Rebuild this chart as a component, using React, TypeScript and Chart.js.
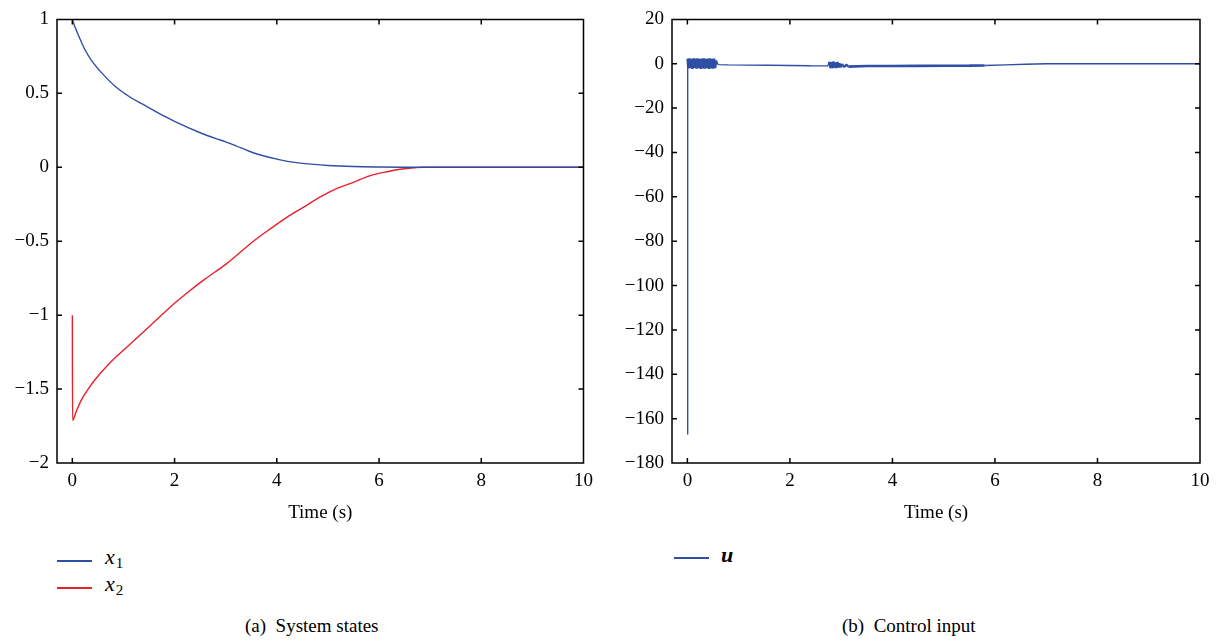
import React, { useEffect, useRef } from 'react';
import { Chart, registerables } from 'chart.js';
Chart.register(...registerables);

// ---------- data ----------
const X_TICKS = [0, 2, 4, 6, 8, 10];
const STATE_Y_TICKS = [-2, -1.5, -1, -0.5, 0, 0.5, 1];
const INPUT_Y_TICKS = [-180, -160, -140, -120, -100, -80, -60, -40, -20, 0, 20];

const X1_T = [0, 0.05, 0.11, 0.24, 0.37, 0.57, 0.83, 1.15, 1.41, 1.83, 2.0, 2.49, 2.8, 3.0, 3.2, 3.45, 3.63, 4.0, 4.21, 4.5, 5.0, 5.5, 6.0, 6.5, 6.8, 10];
const X1_V = [1.0, 0.95, 0.9, 0.8, 0.725, 0.64, 0.55, 0.47, 0.42, 0.34, 0.31, 0.235, 0.195, 0.172, 0.145, 0.11, 0.088, 0.055, 0.04, 0.026, 0.012, 0.005, 0.002, 0.0005, 0, 0];

const X2_T = [0, 0.004, 0.078, 0.175, 0.3, 0.435, 0.7, 1.15, 1.48, 2.0, 2.26, 2.6, 3.0, 3.2, 3.56, 3.9, 4.21, 4.5, 4.86, 5.2, 5.51, 5.8, 6.16, 6.45, 6.69, 6.85, 10];
const X2_V = [-1.0, -1.712, -1.65, -1.575, -1.505, -1.44, -1.335, -1.19, -1.085, -0.92, -0.845, -0.755, -0.657, -0.6, -0.495, -0.41, -0.336, -0.275, -0.199, -0.14, -0.1, -0.06, -0.03, -0.012, -0.004, 0, 0];

const U_T = [
  0, 0.006,
  0.02, 0.04, 0.06, 0.08, 0.10, 0.12, 0.14, 0.16, 0.18, 0.20, 0.22, 0.24, 0.26, 0.28,
  0.30, 0.32, 0.34, 0.36, 0.38, 0.40, 0.42, 0.44, 0.46, 0.48, 0.50, 0.52, 0.54, 0.56,
  0.6, 0.8, 1.2, 1.6, 2.0, 2.4, 2.74,
  2.77, 2.79, 2.81, 2.83, 2.85, 2.87, 2.89, 2.91, 2.93, 2.95, 2.97, 2.99, 3.02, 3.06, 3.1, 3.14,
  3.5, 4.0, 4.5, 5.0, 5.5, 5.8, 6.2, 6.6, 7.0, 8.0, 10
];
const U_V = [
  -167, 2.3,
  -2.1, 2.4, -2.0, 2.2, -2.3, 2.4, -1.9, 2.3, -2.2, 2.4, -2.0, 2.2, -2.3, 2.3,
  -2.1, 2.4, -2.2, 2.2, -2.0, 2.3, -2.3, 2.4, -2.1, 2.2, -2.2, 2.3, -2.0, 1.5,
  -0.4, -0.5, -0.6, -0.7, -0.8, -0.9, -0.95,
  0.9, -1.9, 0.7, -2.0, 1.0, -1.8, 0.6, -1.9, 0.8, -1.7, 0.2, -1.6, -0.2, -1.5, -0.4, -1.3,
  -1.0, -1.0, -0.95, -0.9, -0.85, -0.8, -0.5, -0.2, 0, 0, 0
];

// ---------- style ----------
const FONT_FAMILY = "'Liberation Serif', 'DejaVu Serif', serif";
const BLUE = '#2f4fa6';
const RED = '#e8202a';

const fmt = (v: number) => String(v).replace('-', '\u2212');
const pts = (t: number[], v: number[]) => t.map((x, i) => ({ x, y: v[i] }));

const framePlugin = {
  id: 'frame',
  afterDraw(chart: any) {
    const { ctx, chartArea: a } = chart;
    const xs = chart.scales.x;
    const ys = chart.scales.y;
    const L = 5;
    ctx.save();
    ctx.strokeStyle = '#000';
    ctx.lineWidth = 1.5;
    ctx.beginPath();
    ctx.rect(a.left, a.top, a.right - a.left, a.bottom - a.top);
    xs.ticks.forEach((t: any) => {
      const p = xs.getPixelForValue(t.value);
      ctx.moveTo(p, a.bottom); ctx.lineTo(p, a.bottom - L);
      ctx.moveTo(p, a.top); ctx.lineTo(p, a.top + L);
    });
    ys.ticks.forEach((t: any) => {
      const p = ys.getPixelForValue(t.value);
      ctx.moveTo(a.left, p); ctx.lineTo(a.left + L, p);
      ctx.moveTo(a.right, p); ctx.lineTo(a.right - L, p);
    });
    ctx.stroke();
    ctx.restore();
  },
};

function makeConfig(datasets: any[], yMin: number, yMax: number, yTicks: number[], yWidth: number, rightPad: number): any {
  const font = { family: FONT_FAMILY, size: 19 };
  return {
    type: 'line',
    data: { datasets },
    options: {
      animation: false,
      responsive: false,
      devicePixelRatio: 1,
      events: [],
      layout: { padding: { left: 0, top: 13, right: rightPad, bottom: 0 } },
      plugins: { legend: { display: false }, tooltip: { enabled: false } },
      elements: { point: { radius: 0 } },
      scales: {
        x: {
          type: 'linear',
          min: -0.3,
          max: 10,
          afterBuildTicks: (s: any) => { s.ticks = X_TICKS.map((v) => ({ value: v })); },
          afterFit: (s: any) => { s.height = 77; },
          grid: { display: false, drawTicks: false },
          border: { display: false },
          ticks: { font, color: '#000', padding: 7, maxRotation: 0, autoSkip: false, callback: (v: number) => fmt(v) },
          title: { display: true, text: 'Time (s)', font, color: '#000', padding: { top: 0, bottom: 15.5 } },
        },
        y: {
          type: 'linear',
          min: yMin,
          max: yMax,
          afterBuildTicks: (s: any) => { s.ticks = yTicks.map((v) => ({ value: v })); },
          afterFit: (s: any) => { s.width = yWidth; },
          grid: { display: false, drawTicks: false },
          border: { display: false },
          ticks: { font, color: '#000', padding: 8, autoSkip: false, callback: (v: number) => fmt(v) },
        },
      },
    },
    plugins: [framePlugin],
  };
}

function ChartCanvas({ config, left, top, width, height }: any) {
  const ref = useRef<HTMLCanvasElement | null>(null);
  useEffect(() => {
    if (!ref.current) return;
    const chart = new Chart(ref.current, config);
    return () => chart.destroy();
  }, []);
  return (
    <canvas
      ref={ref}
      width={width}
      height={height}
      style={{ position: 'absolute', left, top, width, height, display: 'block' }}
    />
  );
}

export default function App() {
  const statesConfig = makeConfig(
    [
      { label: 'x1', data: pts(X1_T, X1_V), borderColor: BLUE, borderWidth: 1.4, cubicInterpolationMode: 'monotone', fill: false },
      { label: 'x2', data: pts(X2_T, X2_V), borderColor: RED, borderWidth: 1.4, cubicInterpolationMode: 'monotone', fill: false },
    ],
    -2, 1, STATE_Y_TICKS, 57, 15
  );
  const inputConfig = makeConfig(
    [
      {
        label: 'u',
        data: pts(U_T, U_V),
        borderColor: BLUE,
        borderWidth: 1.4,
        borderJoinStyle: 'bevel',
        tension: 0,
        fill: false,
        segment: {
          borderWidth: (c: any) => {
            const a = c.p0.parsed.x;
            const b = c.p1.parsed.x;
            if (a >= 0.006 && b <= 0.57) return 2.6;
            if (a >= 2.76 && b <= 3.15) return 2.2;
            if (a >= 3.1 && b <= 5.81) return 2.6;
            return 1.4;
          },
        },
      },
    ],
    -180, 20, INPUT_Y_TICKS, 72, 19
  );

  const serif = FONT_FAMILY;
  const legendLine = (left: number, top: number, color: string) => (
    <div style={{ position: 'absolute', left, top, width: 35, height: 1.6, background: color }} />
  );
  const mathText = (left: number, top: number, base: string, sub: string | null, bold = false) => (
    <div style={{ position: 'absolute', left, top, fontFamily: serif, fontSize: 22, lineHeight: '22px', color: '#000', whiteSpace: 'nowrap' }}>
      <span style={{ fontStyle: 'italic', fontWeight: bold ? 'bold' : 'normal' }}>{base}</span>
      {sub !== null && (
        <span style={{ fontSize: 15, position: 'relative', top: 4, marginLeft: 1 }}>{sub}</span>
      )}
    </div>
  );
  const caption = (left: number, text: string) => (
    <div style={{ position: 'absolute', left, top: 616, fontFamily: serif, fontSize: 19, lineHeight: '19px', color: '#000', whiteSpace: 'pre' }}>{text}</div>
  );

  return (
    <div style={{ position: 'fixed', left: 0, top: 0, width: 1219, height: 642, background: '#fff', overflow: 'hidden' }}>
      <ChartCanvas config={statesConfig} left={0} top={0} width={600} height={540} />
      <ChartCanvas config={inputConfig} left={600} top={0} width={619} height={540} />
      {legendLine(57, 560, BLUE)}
      {mathText(105, 546, 'x', '1')}
      {legendLine(57, 587, RED)}
      {mathText(105, 573, 'x', '2')}
      {legendLine(674, 557, BLUE)}
      {mathText(721, 544, 'u', null, true)}
      {caption(245, '(a)  System states')}
      {caption(842, '(b)  Control input')}
    </div>
  );
}
